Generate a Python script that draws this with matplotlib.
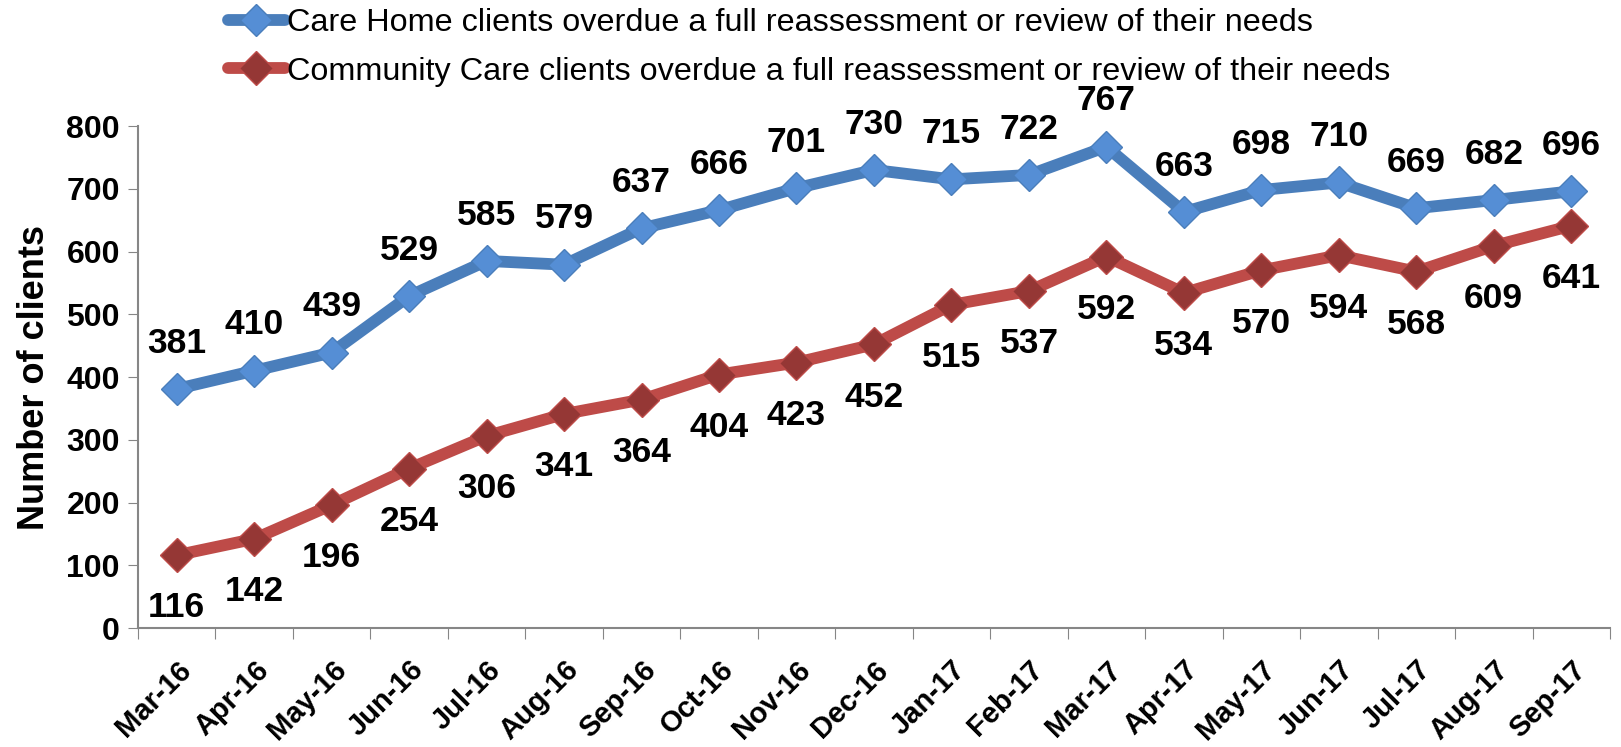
import matplotlib
matplotlib.use("Agg")
import matplotlib.pyplot as plt
from matplotlib.ticker import FixedLocator, NullFormatter
from matplotlib.transforms import ScaledTranslation

plt.rcParams['font.family'] = ['Liberation Sans', 'DejaVu Sans']

# Data
months = ['Mar-16', 'Apr-16', 'May-16', 'Jun-16', 'Jul-16', 'Aug-16', 'Sep-16',
          'Oct-16', 'Nov-16', 'Dec-16', 'Jan-17', 'Feb-17', 'Mar-17', 'Apr-17',
          'May-17', 'Jun-17', 'Jul-17', 'Aug-17', 'Sep-17']
care_home = [381, 410, 439, 529, 585, 579, 637, 666, 701, 730, 715, 722, 767,
             663, 698, 710, 669, 682, 696]
community = [116, 142, 196, 254, 306, 341, 364, 404, 423, 452, 515, 537, 592,
             534, 570, 594, 568, 609, 641]
care_home_label = "Care Home clients overdue a full reassessment or review of their needs"
community_label = "Community Care clients overdue a full reassessment or review of their needs"

x = list(range(len(months)))

fig = plt.figure(figsize=(16.21, 7.47), dpi=100)
ax = fig.add_axes([0.0851, 0.1593, 0.9081, 0.672])

l1, = ax.plot(x, care_home, color='#4A7EBB', lw=8.5, marker='D', ms=16,
              markerfacecolor='#558ED5', markeredgecolor='#4A7EBB', mew=1,
              solid_capstyle='round', zorder=3)
l2, = ax.plot(x, community, color='#BE4B48', lw=8.5, marker='D', ms=17,
              markerfacecolor='#953735', markeredgecolor='#BE4B48', mew=1,
              solid_capstyle='round', zorder=3)

# Data labels
for xi, v in zip(x, care_home):
    ax.annotate(str(v), (xi, v), xytext=(0, 33), textcoords='offset points',
                ha='center', va='center', fontsize=25.5, fontweight='bold')
for xi, v in zip(x, community):
    ax.annotate(str(v), (xi, v), xytext=(0, -38), textcoords='offset points',
                ha='center', va='center', fontsize=25.5, fontweight='bold')

ax.set_xlim(-0.5, len(months) - 0.5)
ax.set_ylim(0, 800)
ax.set_yticks(range(0, 801, 100))
ax.tick_params(axis='y', labelsize=23, direction='out', length=7, color='#868686', pad=6)
for t in ax.get_yticklabels():
    t.set_fontweight('bold')

# Category axis: ticks between categories, labels at centres
ax.xaxis.set_major_locator(FixedLocator([i - 0.5 for i in range(len(months) + 1)]))
ax.xaxis.set_major_formatter(NullFormatter())
ax.xaxis.set_minor_locator(FixedLocator(x))
ax.set_xticklabels(months, minor=True, rotation=45, ha='right', va='center',
                   rotation_mode='anchor', fontsize=21, fontweight='bold')
ax.tick_params(axis='x', which='major', direction='out', length=8, color='#868686')
ax.tick_params(axis='x', which='minor', length=0, pad=27)
shift = ScaledTranslation(10 / 100, 0, fig.dpi_scale_trans)
for t in ax.get_xticklabels(minor=True):
    t.set_transform(t.get_transform() + shift)

for side in ['top', 'right']:
    ax.spines[side].set_visible(False)
for side in ['left', 'bottom']:
    ax.spines[side].set_color('#868686')
    ax.spines[side].set_linewidth(1.5)

ax.set_ylabel('Number of clients', fontsize=26, fontweight='bold', labelpad=10)

fig.legend([l1, l2], [care_home_label, community_label], loc='upper left',
           bbox_to_anchor=(228 / 1621, 1 - 8 / 747), frameon=False, fontsize=23.3,
           handlelength=1.75, handletextpad=0.08, labelspacing=0.58, borderpad=0,
           borderaxespad=0)

fig.savefig('out.png', dpi=100)
